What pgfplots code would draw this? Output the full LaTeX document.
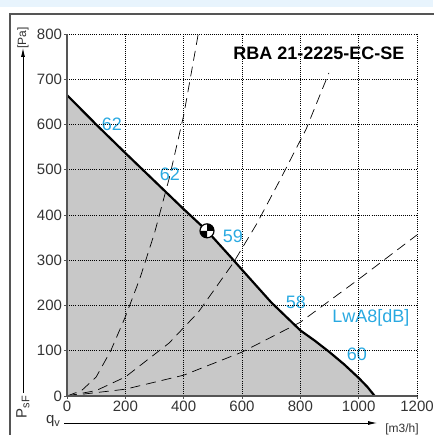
\documentclass[border=0pt]{standalone}
\usepackage{pgfplots}
\pgfplotsset{compat=1.18}
\usepackage{fontspec}
\setmainfont{Liberation Sans}
\usetikzlibrary{arrows.meta}
\definecolor{lblue}{HTML}{29A9E1}
\definecolor{band}{HTML}{E8F4FD}
\definecolor{areagray}{HTML}{C8C8C8}
\definecolor{axgray}{HTML}{555555}
\definecolor{txt}{HTML}{333333}

\pgfdeclareplotmark{fan}{%
  \pgfpathcircle{\pgfpointorigin}{7pt}%
  \pgfsetfillcolor{white}\pgfusepath{fill}%
  \pgfpathmoveto{\pgfpointorigin}\pgfpathlineto{\pgfpoint{7pt}{0pt}}\pgfpatharc{0}{90}{7pt}\pgfpathclose
  \pgfpathmoveto{\pgfpointorigin}\pgfpathlineto{\pgfpoint{-7pt}{0pt}}\pgfpatharc{180}{270}{7pt}\pgfpathclose
  \pgfsetfillcolor{black}\pgfusepath{fill}%
  \pgfpathcircle{\pgfpointorigin}{7pt}%
  \pgfsetlinewidth{1.2pt}\pgfsetstrokecolor{black}\pgfusepath{stroke}%
}

\begin{document}
\begin{tikzpicture}[x=1pt,y=1pt]
\useasboundingbox (0,0) rectangle (433,435);
\fill[band] (0,428) rectangle (433,435);
\draw[axgray, line width=1.2pt] (10,-10) rectangle (445,421);

\begin{axis}[
  at={(67pt,39pt)}, anchor=south west,
  scale only axis, width=350pt, height=362pt,
  xmin=0, xmax=1200, ymin=0, ymax=800,
  xtick={0,200,...,1200}, ytick={0,100,...,800},
  axis x line*=bottom, axis y line*=left,
  axis line style={axgray, line width=1.5pt, -},
  tick style={axgray, line width=0.8pt},
  tick align=outside, major tick length=3pt,
  grid=major,
  major grid style={black, line width=0.7pt, dash pattern=on 0.7pt off 1.4pt},
  axis on top,
  ticklabel style={font=\fontsize{15}{15}\selectfont, text=txt},
  /pgf/number format/assume math mode=true,
  /pgf/number format/1000 sep={},
  xticklabel style={yshift=2pt},
  yticklabel style={xshift=1.5pt},
  clip=false,
]
% operating area
\addplot[fill=areagray, draw=none] coordinates {
 (0,665) (100,600) (200,537) (300,475) (400,413) (480,365) (560,308)
 (600,279) (700,207) (800,145) (850,122) (900,97) (950,70) (1000,40) (1030,20) (1055,0)} \closedcycle;
% system curves
\addplot[black, line width=0.7pt, dash pattern=on 10pt off 6pt] coordinates {
 (0,0) (50,12) (100,42) (150,100) (200,175) (250,260) (300,360) (350,480) (400,620) (450,800)};
\addplot[black, line width=0.7pt, dash pattern=on 10pt off 6pt] coordinates {
 (0,0) (100,12) (200,42) (350,117) (450,185) (570,294) (650,380) (730,477) (820,590) (898,714)};
\addplot[black, line width=0.7pt, dash pattern=on 10pt off 6pt] coordinates {
 (0,0) (200,15) (400,46) (600,97) (800,163) (1000,258) (1200,356)};
% fan curve
\addplot[black, line width=2.2pt] coordinates {
 (0,665) (100,600) (200,537) (300,475) (400,413) (480,365) (560,308)
 (600,279) (700,207) (800,145) (850,122) (900,97) (950,70) (1000,40) (1030,20) (1055,0)};
% operating point
\addplot[only marks, mark=fan] coordinates {(480,365)};
% noise labels
\begin{scope}[every node/.style={text=lblue, font=\fontsize{18}{18}\selectfont}]
\node at (axis cs:154,600) {62};
\node at (axis cs:353,490) {62};
\node at (axis cs:569,352) {59};
\node at (axis cs:785,208) {58};
\node at (axis cs:1042,172) {LwA8[dB]};
\node at (axis cs:994,93) {60};
\end{scope}
\end{axis}

\node[font=\bfseries\fontsize{18}{18}\selectfont] at (319,382) {RBA 21-2225-EC-SE};
% y axis label
\draw[black, line width=0.8pt, -{Latex[length=9pt,width=4pt]}] (23,42) -- (23,387);
\node[rotate=90, font=\fontsize{12}{12}\selectfont, text=txt] at (23,397) {[Pa]};
\node[rotate=90, font=\fontsize{15}{15}\selectfont, text=txt, fill=white, inner sep=1pt] at (23,28) {P\raisebox{-0.35ex}{\fontsize{11}{11}\selectfont sF}};
% x axis label
\node[font=\fontsize{15}{15}\selectfont, text=txt] at (53,14) {q\raisebox{-0.35ex}{\fontsize{11}{11}\selectfont v}};
\draw[black, line width=0.8pt, -{Latex[length=9pt,width=4pt]}] (64,12) -- (377,12);
\node[font=\fontsize{12}{12}\selectfont, text=txt] at (402,6) {[m3/h]};
\end{tikzpicture}
\end{document}
